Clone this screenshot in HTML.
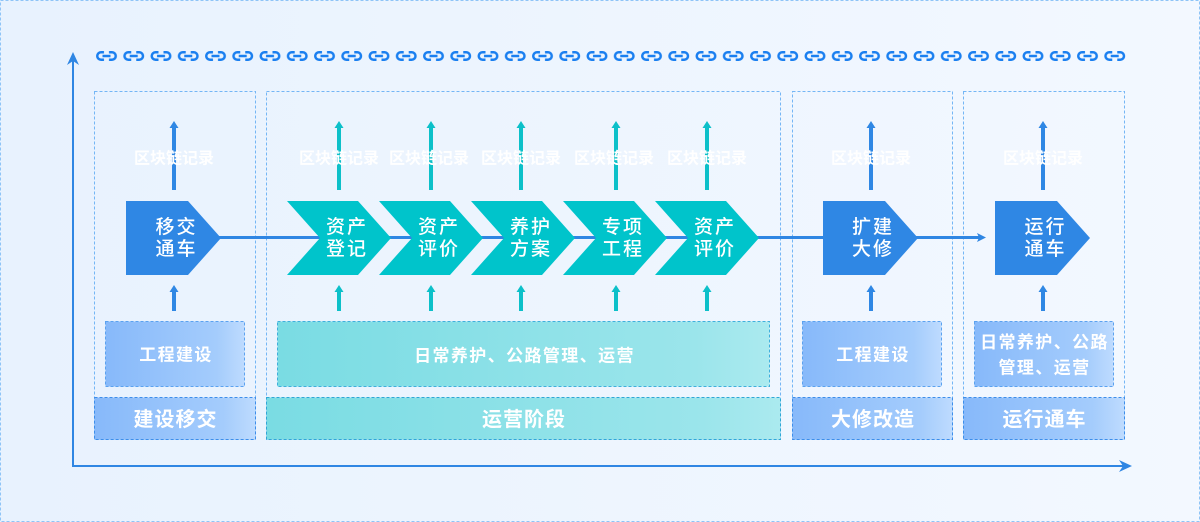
<!DOCTYPE html>
<html><head><meta charset="utf-8">
<style>
html,body{margin:0;padding:0;}
body{width:1200px;height:522px;overflow:hidden;font-family:"Liberation Sans","Noto Sans CJK SC",sans-serif;}
svg{display:block;}
</style></head>
<body>
<svg width="1200" height="522" viewBox="0 0 1200 522" xmlns="http://www.w3.org/2000/svg" font-family="'Liberation Sans','Noto Sans CJK SC',sans-serif">
<defs>
<linearGradient id="bg" x1="0" y1="0" x2="1" y2="0">
<stop offset="0" stop-color="#E8F2FE"/><stop offset="1" stop-color="#F3F8FF"/>
</linearGradient>
<linearGradient id="gb" x1="0" y1="0" x2="1" y2="0">
<stop offset="0" stop-color="#87B9FA"/><stop offset="0.8" stop-color="#A4CCFC"/><stop offset="1" stop-color="#BEDBFE"/>
</linearGradient>
<linearGradient id="gt" x1="0" y1="0" x2="1" y2="0">
<stop offset="0" stop-color="#7ADCE3"/><stop offset="0.85" stop-color="#9BE5EB"/><stop offset="1" stop-color="#ABEAEF"/>
</linearGradient>
<pattern id="chain" patternUnits="userSpaceOnUse" x="96" y="51" width="27.25" height="12">
<g fill="none" stroke="#1A7FF0" stroke-width="2.5">
<path d="M8,1.25 H5 A3.75,3.75 0 0 0 5,8.75 H8"/>
<path d="M13,1.25 H16 A3.75,3.75 0 0 1 16,8.75 H13"/>
<path d="M6.5,5 H14.5"/>
</g>
</pattern>
</defs>

<!-- background -->
<rect x="0" y="0" width="1200" height="522" fill="url(#bg)"/>
<rect x="0.5" y="0.5" width="1199" height="521" fill="none" stroke="#8EC4F7" stroke-width="1" stroke-dasharray="3 2"/>

<!-- chain row -->
<rect x="96" y="51" width="1035.5" height="11" fill="url(#chain)"/>

<!-- columns -->
<g fill="none" stroke="#74B6F5" stroke-width="1" stroke-dasharray="3 2">
<rect x="94.5" y="91.5" width="161" height="348"/>
<rect x="266.5" y="91.5" width="514" height="348"/>
<rect x="792.5" y="91.5" width="160" height="348"/>
<rect x="963.5" y="91.5" width="161" height="348"/>
</g>

<!-- inner boxes -->
<g stroke-width="1" stroke-dasharray="3 2">
<rect x="105.5" y="321.5" width="139" height="65" fill="url(#gb)" stroke="#5BA2F0"/>
<rect x="277.5" y="321.5" width="492" height="65" fill="url(#gt)" stroke="#3EB0DC"/>
<rect x="802.5" y="321.5" width="139" height="65" fill="url(#gb)" stroke="#5BA2F0"/>
<rect x="974.5" y="321.5" width="139" height="65" fill="url(#gb)" stroke="#5BA2F0"/>
<!-- label boxes -->
<rect x="94.5" y="397.5" width="161" height="42" fill="url(#gb)" stroke="#3D8EEB"/>
<rect x="266.5" y="397.5" width="514" height="42" fill="url(#gt)" stroke="#2FA8D6"/>
<rect x="792.5" y="397.5" width="160" height="42" fill="url(#gb)" stroke="#3D8EEB"/>
<rect x="963.5" y="397.5" width="161" height="42" fill="url(#gb)" stroke="#3D8EEB"/>
</g>

<!-- axes -->
<g stroke="#2F86E3" stroke-width="2" fill="none">
<path d="M73,60 V466 H1124"/>
</g>
<path d="M73,52 L79,65 L73,61 L67,65 Z" fill="#2F86E3"/>
<path d="M1132,466 L1119,460 L1123,466 L1119,472 Z" fill="#2F86E3"/>

<!-- connector line -->
<path d="M200,237.5 H980" stroke="#2F86E3" stroke-width="3" fill="none"/>
<path d="M986,237.5 L977,233 L979,237.5 L977,242 Z" fill="#2F86E3"/>

<!-- blue shapes -->
<g fill="#2F87E4">
<polygon points="126,201 188,201 221,238 188,275 126,275"/>
<polygon points="823,201 885,201 918,238 885,275 823,275"/>
<polygon points="995,201 1057,201 1090,238 1057,275 995,275"/>
</g>
<!-- teal chevrons -->
<g fill="#00C4CB">
<polygon points="287,201 358,201 391,238 358,275 287,275 320,238"/>
<polygon points="379,201 450,201 483,238 450,275 379,275 412,238"/>
<polygon points="471,201 542,201 575,238 542,275 471,275 504,238"/>
<polygon points="563,201 634,201 667,238 634,275 563,275 596,238"/>
<polygon points="655,201 726,201 759,238 726,275 655,275 688,238"/>
</g>

<!-- up arrows -->
<g fill="#2F87E4">
<path d="M172,127 H176 V190 H172 Z M174,121 L178.5,128 H169.5 Z"/>
<path d="M172,291 H176 V311 H172 Z M174,285 L178.5,292 H169.5 Z"/>
<path d="M869,127 H873 V190 H869 Z M871,121 L875.5,128 H866.5 Z"/>
<path d="M869,291 H873 V311 H869 Z M871,285 L875.5,292 H866.5 Z"/>
<path d="M1041,127 H1045 V190 H1041 Z M1043,121 L1047.5,128 H1038.5 Z"/>
<path d="M1041,291 H1045 V311 H1041 Z M1043,285 L1047.5,292 H1038.5 Z"/>
</g>
<g fill="#0CC0C9">
<path d="M337,127 H341 V190 H337 Z M339,121 L343.5,128 H334.5 Z"/>
<path d="M337,291 H341 V311 H337 Z M339,285 L343.5,292 H334.5 Z"/>
<path d="M429,127 H433 V190 H429 Z M431,121 L435.5,128 H426.5 Z"/>
<path d="M429,291 H433 V311 H429 Z M431,285 L435.5,292 H426.5 Z"/>
<path d="M519,127 H523 V190 H519 Z M521,121 L525.5,128 H516.5 Z"/>
<path d="M519,291 H523 V311 H519 Z M521,285 L525.5,292 H516.5 Z"/>
<path d="M614,127 H618 V190 H614 Z M616,121 L620.5,128 H611.5 Z"/>
<path d="M614,291 H618 V311 H614 Z M616,285 L620.5,292 H611.5 Z"/>
<path d="M705,127 H709 V190 H705 Z M707,121 L711.5,128 H702.5 Z"/>
<path d="M705,291 H709 V311 H705 Z M707,285 L711.5,292 H702.5 Z"/>
</g>

<!-- blockchain labels -->
<g fill="#FFFFFF" font-size="16" font-weight="700" text-anchor="middle">
<text x="174" y="163.5">区块链记录</text>
<text x="339" y="163.5">区块链记录</text>
<text x="429" y="163.5">区块链记录</text>
<text x="521" y="163.5">区块链记录</text>
<text x="614" y="163.5">区块链记录</text>
<text x="707" y="163.5">区块链记录</text>
<text x="871" y="163.5">区块链记录</text>
<text x="1043" y="163.5">区块链记录</text>
</g>

<!-- shape text -->
<g fill="#FFFFFF" font-size="19" font-weight="500" text-anchor="middle" letter-spacing="2">
<text x="176.5" y="233">移交</text><text x="176.5" y="255">通车</text>
<text x="347" y="233">资产</text><text x="347" y="255">登记</text>
<text x="439" y="233">资产</text><text x="439" y="255">评价</text>
<text x="531" y="233">养护</text><text x="531" y="255">方案</text>
<text x="623" y="233">专项</text><text x="623" y="255">工程</text>
<text x="715" y="233">资产</text><text x="715" y="255">评价</text>
<text x="873" y="233">扩建</text><text x="873" y="255">大修</text>
<text x="1045.5" y="233">运行</text><text x="1045.5" y="255">通车</text>
</g>

<!-- box text -->
<g fill="#FFFFFF" font-size="17" font-weight="700" text-anchor="middle" letter-spacing="1.4">
<text x="176" y="360.5">工程建设</text>
<text x="524.5" y="361.5">日常养护、公路管理、运营</text>
<text x="873" y="360.5">工程建设</text>
<text x="1044.5" y="348">日常养护、公路</text>
<text x="1044.5" y="373.5">管理、运营</text>
</g>
<g fill="#FFFFFF" font-size="20" font-weight="700" text-anchor="middle" letter-spacing="1">
<text x="175.5" y="426">建设移交</text>
<text x="524" y="426">运营阶段</text>
<text x="873" y="426">大修改造</text>
<text x="1044.5" y="426">运行通车</text>
</g>
</svg>
</body></html>
